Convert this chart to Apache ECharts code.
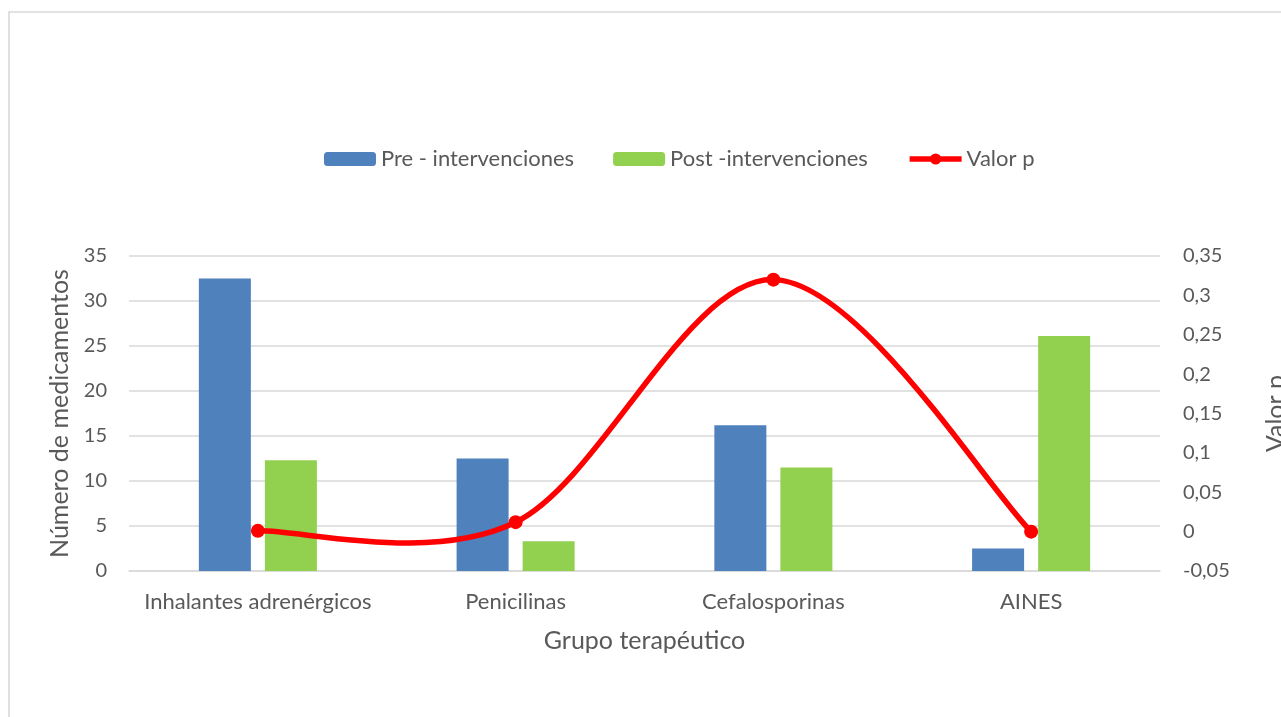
<!DOCTYPE html>
<html>
<head>
<meta charset="utf-8">
<script src="https://cdn.jsdelivr.net/npm/echarts@6/dist/echarts.min.js"></script>
<style>
  html, body { margin: 0; padding: 0; background: #fff; overflow: hidden; }
  #chart { width: 1281px; height: 717px; }
</style>
</head>
<body>
<div id="chart"></div>
<script>
// Therapeutic groups and medication counts before / after the interventions
const categories = ['Inhalantes adrenérgicos', 'Penicilinas', 'Cefalosporinas', 'AINES'];
const preValues = [32.5, 12.5, 16.2, 2.5];
const postValues = [12.3, 3.3, 11.5, 26.1];
const pValues = [0.001, 0.012, 0.32, 0.0];

const seriesNames = ['Pre - intervenciones', 'Post -intervenciones', 'Valor p'];
const FONT = 'Lato';
const TEXT = '#595959';
const GRID = '#D9D9D9';
const RED = '#FF0000';

const chart = echarts.init(document.getElementById('chart'), null, { renderer: 'canvas' });

const commaFmt = v => String(+(+v).toFixed(2)).replace('.', ',');

// Smooth curve through the p-value points (Catmull-Rom converted to cubic Bezier)
function smoothPath(pts) {
  let d = 'M' + pts[0][0] + ' ' + pts[0][1];
  for (let i = 0; i < pts.length - 1; i++) {
    const p0 = pts[Math.max(i - 1, 0)];
    const p1 = pts[i];
    const p2 = pts[i + 1];
    const p3 = pts[Math.min(i + 2, pts.length - 1)];
    const c1x = p1[0] + (p2[0] - p0[0]) / 6, c1y = p1[1] + (p2[1] - p0[1]) / 6;
    const c2x = p2[0] - (p3[0] - p1[0]) / 6, c2y = p2[1] - (p3[1] - p1[1]) / 6;
    d += ' C' + c1x + ' ' + c1y + ' ' + c2x + ' ' + c2y + ' ' + p2[0] + ' ' + p2[1];
  }
  return d;
}

chart.setOption({
  backgroundColor: '#ffffff',
  textStyle: { fontFamily: FONT, color: TEXT },
  graphic: [{
    type: 'rect',
    shape: { x: 9, y: 12, width: 1300, height: 800 },
    style: { fill: 'none', stroke: '#D9D9D9', lineWidth: 1.6 },
    silent: true,
    z: -1
  }],
  legend: {
    top: 143,
    left: 319,
    itemWidth: 52,
    itemHeight: 14,
    itemGap: 39,
    textStyle: { fontFamily: FONT, fontSize: 22, color: TEXT },
    data: [
      { name: seriesNames[0] },
      { name: seriesNames[1] },
      { name: seriesNames[2], lineStyle: { color: RED, width: 5.5, opacity: 1 }, itemStyle: { color: RED } }
    ]
  },
  grid: { left: 129, right: 121, top: 256, bottom: 146, containLabel: false, outerBoundsMode: 'none' },
  xAxis: {
    type: 'category',
    data: categories,
    axisLine: { lineStyle: { color: GRID, width: 1.5 } },
    axisTick: { show: false },
    axisLabel: { fontFamily: FONT, fontSize: 22, color: TEXT, margin: 20, interval: 0 },
    name: 'Grupo terapéutico',
    nameLocation: 'middle',
    nameGap: 57,
    nameTextStyle: { fontFamily: FONT, fontSize: 25, color: TEXT }
  },
  yAxis: [{
    type: 'value',
    min: 0, max: 35, interval: 5,
    axisLine: { show: false },
    axisTick: { show: false },
    splitLine: { lineStyle: { color: GRID, width: 1.5 } },
    axisLabel: { fontFamily: FONT, fontSize: 20, color: TEXT, margin: 22 },
    name: 'Número de medicamentos',
    nameLocation: 'middle',
    nameGap: 56,
    nameRotate: 90,
    nameTextStyle: { fontFamily: FONT, fontSize: 25, color: TEXT }
  }, {
    type: 'value',
    min: -0.05, max: 0.35, interval: 0.05,
    position: 'right',
    axisLine: { show: false },
    axisTick: { show: false },
    splitLine: { show: false },
    axisLabel: { fontFamily: FONT, fontSize: 20, color: TEXT, margin: 23, formatter: commaFmt },
    name: 'Valor p',
    nameLocation: 'middle',
    nameGap: 103,
    nameRotate: 90,
    nameTextStyle: { fontFamily: FONT, fontSize: 25, color: TEXT }
  }],
  series: [{
    name: seriesNames[0],
    type: 'bar',
    data: preValues,
    barWidth: 52,
    barGap: '27%',
    itemStyle: { color: '#4F81BD' }
  }, {
    name: seriesNames[1],
    type: 'bar',
    data: postValues,
    barWidth: 52,
    barGap: '27%',
    itemStyle: { color: '#92D050' }
  }, {
    name: 'Valor p curva',
    type: 'custom',
    yAxisIndex: 1,
    data: pValues.map((v, i) => [i, v]),
    encode: { x: 0, y: 1 },
    z: 4,
    silent: true,
    renderItem: function (params, api) {
      if (params.dataIndex !== 0) return { type: 'group', children: [] };
      const pts = pValues.map((v, i) => api.coord([i, v]));
      return {
        type: 'path',
        shape: { pathData: smoothPath(pts) },
        style: { fill: 'none', stroke: RED, lineWidth: 5.5, lineJoin: 'round', lineCap: 'round' }
      };
    }
  }, {
    name: seriesNames[2],
    type: 'line',
    yAxisIndex: 1,
    data: pValues,
    symbol: 'circle',
    symbolSize: 14,
    lineStyle: { color: RED, width: 5.5, opacity: 0 },
    itemStyle: { color: RED },
    z: 5
  }],
  animation: false
});
</script>
</body>
</html>
